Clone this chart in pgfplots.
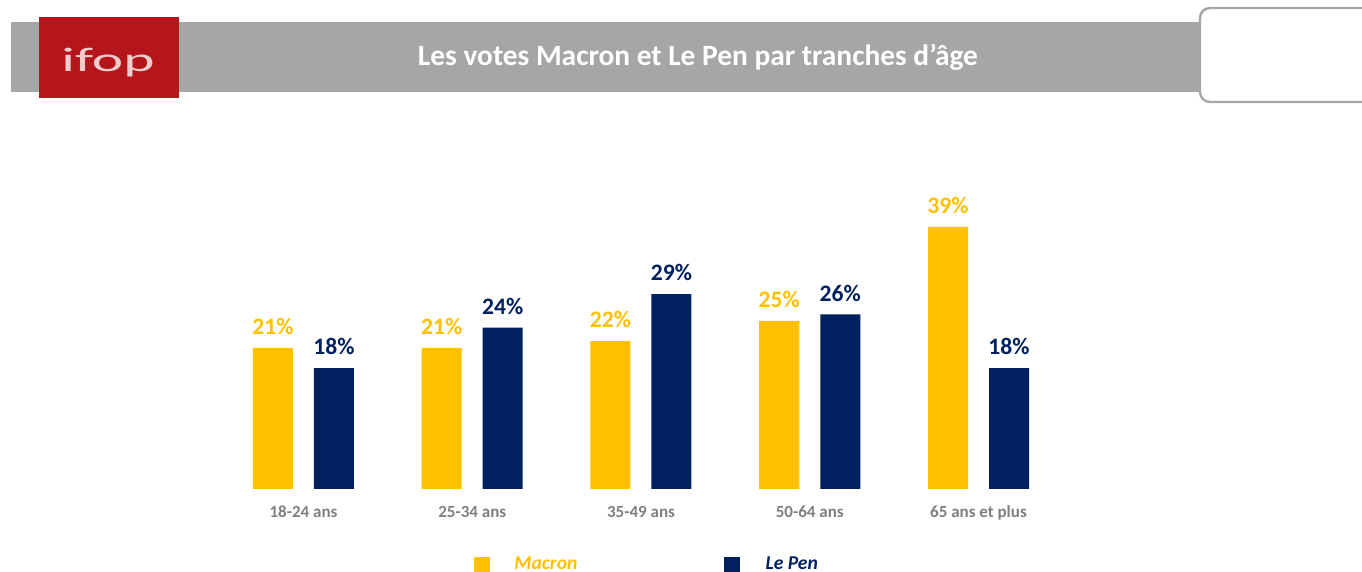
\documentclass[border=0pt]{standalone}
\usepackage{fontspec}
\setmainfont{Carlito}
\usepackage{pgfplots}
\pgfplotsset{compat=1.18}
\definecolor{myyel}{HTML}{FFC000}
\definecolor{myblue}{HTML}{002060}
\definecolor{hdrgrey}{HTML}{A6A6A6}
\definecolor{tickgrey}{HTML}{7F7F7F}
\definecolor{ifopred}{HTML}{B5161B}
\definecolor{ifoptext}{HTML}{F0CCCC}
\begin{document}
\begin{tikzpicture}
\useasboundingbox (0,0) rectangle (681pt,286pt);
% header
\fill[hdrgrey] (5.5pt,240pt) rectangle (600pt,275pt);
\fill[ifopred] (19.5pt,237pt) rectangle (89.5pt,277.5pt);
\node[text=ifoptext, font=\fontsize{17}{20}\selectfont, inner sep=0pt] at (54pt,254.5pt) {\scalebox{1.75}[1]{ifop}};
\node[text=white, font=\bfseries\fontsize{14.7}{17}\selectfont] at (349pt,257.5pt) {Les votes Macron et Le Pen par tranches d’âge};
\draw[hdrgrey, line width=1.2pt, fill=white, rounded corners=5pt] (600pt,235pt) rectangle (690pt,282pt);
\begin{axis}[
  at={(109.56pt,41.5pt)}, anchor=south west,
  scale only axis, width=421.875pt, height=134.4pt,
  xmin=-0.5, xmax=4.5, ymin=0, ymax=40,
  clip=false,
  axis line style={draw=none},
  ytick=\empty,
  xtick={0,1,2,3,4},
  xticklabels={18-24 ans,25-34 ans,35-49 ans,50-64 ans,65 ans et plus},
  major tick length=0pt,
  xticklabel style={font=\bfseries\fontsize{8.5}{10}\selectfont, text=tickgrey, yshift=-5pt},
  ybar=10.5pt, bar width=20pt,
  /pgf/number format/assume math mode=true,
  nodes near coords={\pgfmathprintnumber[assume math mode=true]{\pgfplotspointmeta}\%},
  every node near coord/.append style={font=\bfseries\fontsize{11.8}{14}\selectfont, yshift=3pt},
  legend columns=2,
  legend style={draw=none, fill=none, at={(0.2950,-0.222)}, anchor=north west,
    font=\bfseries\itshape\fontsize{9.8}{12}\selectfont,
    /tikz/every even column/.append style={column sep=71pt}},
  legend image code/.code={\fill[#1] (0pt,-4pt) rectangle (8pt,4pt);},
]
\addplot[fill=myyel, draw=none, every node near coord/.append style={text=myyel}]
  coordinates {(0,21) (1,21) (2,22) (3,25) (4,39)};
\addplot[fill=myblue, draw=none, every node near coord/.append style={text=myblue}]
  coordinates {(0,18) (1,24) (2,29) (3,26) (4,18)};
\legend{\textcolor{myyel}{\hspace{10pt}Macron},\textcolor{myblue}{\hspace{11pt}Le Pen}}
\end{axis}
\end{tikzpicture}
\end{document}
